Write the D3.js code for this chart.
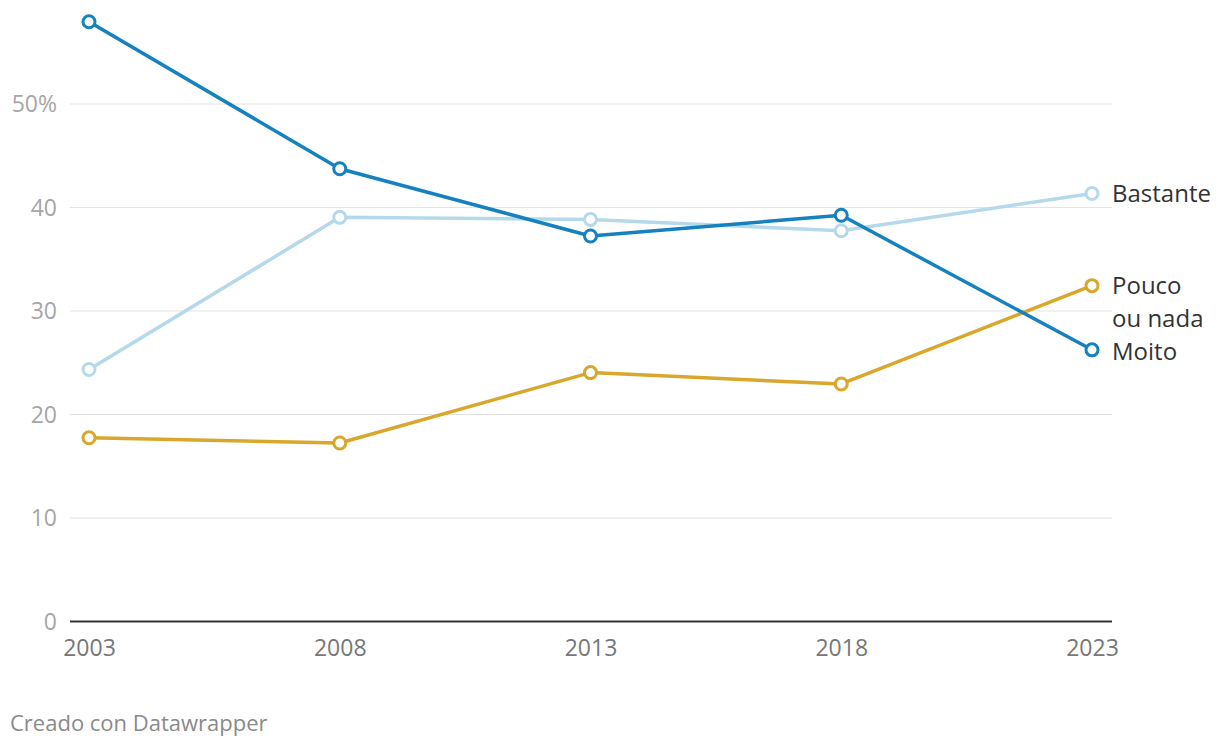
<!DOCTYPE html>
<html><head><meta charset="utf-8">
<script src="https://cdn.jsdelivr.net/npm/d3@7"></script>
<style>
body{margin:0;background:#fff;font-family:"Open Sans","Noto Sans",sans-serif;}
</style></head><body>
<svg id="c" width="1220" height="748"></svg>
<script>
const years = [2003, 2008, 2013, 2018, 2023];
const moito = [57.9, 43.7, 37.2, 39.2, 26.2];
const bastante = [24.3, 39.0, 38.8, 37.7, 41.3];
const pouco = [17.7, 17.2, 24.0, 22.9, 32.4];
const yTicks = [0, 10, 20, 30, 40, 50];
const seriesNames = ["Bastante", "Pouco ou nada", "Moito"];
const seriesColors = ["#b5d9eb", "#d8a72b", "#1581bf"];
const seriesData = [bastante, pouco, moito];

const svg = d3.select("#c");
const x = d3.scaleLinear().domain([2003, 2023]).range([89, 1092]);
const y = d3.scaleLinear().domain([0, 50]).range([621, 103.5]);

// grid
const yAxis = d3.axisLeft(y).tickValues(yTicks).tickSize(-(1112-70)).tickFormat(d => d === 50 ? "50%" : d);
const gy = svg.append("g").attr("transform","translate(70,0)").call(yAxis);
gy.select(".domain").remove();
gy.selectAll(".tick line").attr("stroke","#e3e3e3").attr("stroke-width",1);
gy.selectAll(".tick text").attr("x",-13).attr("fill","#a6a6a6").attr("font-size","23px").attr("font-family","Open Sans").attr("dy","0.35em");
gy.selectAll(".tick").filter(d => d === 0).select("line").attr("stroke","#333").attr("stroke-width",2);

// x axis
const xAxis = d3.axisBottom(x).tickValues(years).tickSize(0).tickFormat(d3.format("d"));
const gx = svg.append("g").attr("transform","translate(0,622)").call(xAxis);
gx.select(".domain").remove();
gx.selectAll(".tick text").attr("fill","#777").attr("font-size","23px").attr("font-family","Open Sans").attr("dy","0").attr("y",34);

const line = d3.line().x((d,i)=>x(years[i])).y(d=>y(d));
[0,1,2].forEach(k=>{
  const g = svg.append("g");
  g.append("path").datum(seriesData[k]).attr("d",line).attr("fill","none")
    .attr("stroke",seriesColors[k]).attr("stroke-width",3.5).attr("stroke-linejoin","round");
  g.selectAll("circle").data(seriesData[k]).join("circle")
    .attr("cx",(d,i)=>x(years[i])).attr("cy",d=>y(d)).attr("r",6)
    .attr("fill","#fff").attr("stroke",seriesColors[k]).attr("stroke-width",3);
});

// labels
const lab = svg.append("g").attr("font-family","Open Sans").attr("font-size","24px").attr("fill","#333");
lab.append("text").attr("x",1112).attr("y",y(bastante[4])).attr("dy","0.35em").text("Bastante");
const pt = lab.append("text").attr("x",1112).attr("y",y(pouco[4])).attr("dy","0.35em");
pt.append("tspan").attr("x",1112).text("Pouco");
pt.append("tspan").attr("x",1112).attr("dy","33px").text("ou nada");
lab.append("text").attr("x",1112).attr("y",y(moito[4])+2).attr("dy","0.35em").text("Moito");

svg.append("text").attr("x",10).attr("y",731).attr("font-family","Open Sans").attr("font-size","22px").attr("fill","#8a8a8a").text("Creado con Datawrapper");
</script>
</body></html>
